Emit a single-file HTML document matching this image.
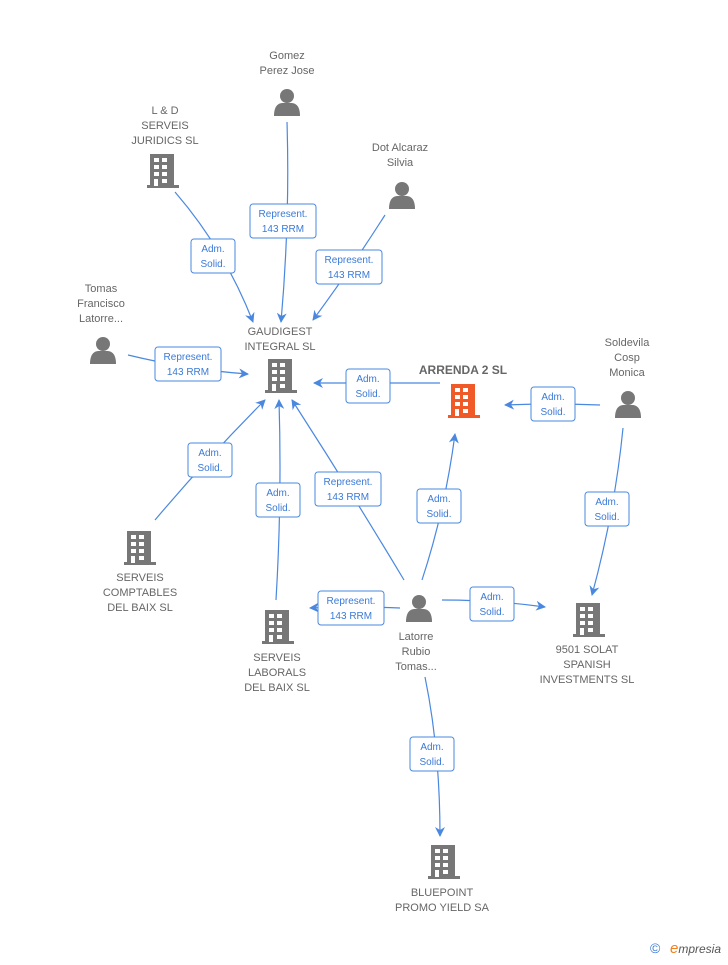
<!DOCTYPE html>
<html><head><meta charset="utf-8"><style>
body{margin:0;background:#fff;}
svg text{font-family:"Liberation Sans",sans-serif;}
</style></head><body>
<svg width="728" height="960" viewBox="0 0 728 960" xmlns="http://www.w3.org/2000/svg">
<defs>
<marker id="a" markerWidth="10" markerHeight="10" refX="9" refY="5" orient="auto" markerUnits="userSpaceOnUse"><path d="M0,0 L10,5 L0,10 L3,5 z" fill="#4a88e0"/></marker>
<g id="b"><rect x="-13" y="-17" width="24" height="33" fill="currentColor"/><rect x="-16" y="14" width="32" height="3" fill="currentColor"/>
<g fill="#fff"><rect x="-9" y="-13" width="5" height="4"/><rect x="-1" y="-13" width="5" height="4"/><rect x="-9" y="-6" width="5" height="4"/><rect x="-1" y="-6" width="5" height="4"/><rect x="-9" y="1" width="5" height="4"/><rect x="-1" y="1" width="5" height="4"/><rect x="-9" y="8" width="4" height="7"/><rect x="-1" y="8" width="5" height="4"/></g></g>
<g id="p" fill="#777"><circle cx="0" cy="-6" r="7"/><path d="M-13,14 C-13,3 -8,1 -4,1 L4,1 C8,1 13,3 13,14 z"/></g>
</defs>
<g stroke="#4a88e0" stroke-width="1.2" fill="none" marker-end="url(#a)">
<path d="M287,122 Q290,220 281,322"/>
<path d="M175,192 Q225,250 253,322"/>
<path d="M385,215 Q350,270 313,320"/>
<path d="M128,355 Q190,370 248,374"/>
<path d="M440,383 Q380,383 314,383"/>
<path d="M600,405 Q550,403 505,405"/>
<path d="M623,428 Q615,510 592,595"/>
<path d="M155,520 Q210,455 265,400"/>
<path d="M276,600 Q282,500 279,400"/>
<path d="M404,580 Q350,490 292,400"/>
<path d="M422,580 Q445,510 455,434"/>
<path d="M400,608 Q350,606 310,608"/>
<path d="M442,600 Q495,600 545,607"/>
<path d="M425,677 Q440,750 440,836"/>
</g>
<g font-size="10" fill="#3a7ad8" text-anchor="middle">
<g stroke="#4a88e0" fill="#fff"><rect x="250" y="204" width="66" height="34" rx="3"/><rect x="191" y="239" width="44" height="34" rx="3"/><rect x="316" y="250" width="66" height="34" rx="3"/><rect x="155" y="347" width="66" height="34" rx="3"/><rect x="346" y="369" width="44" height="34" rx="3"/><rect x="531" y="387" width="44" height="34" rx="3"/><rect x="585" y="492" width="44" height="34" rx="3"/><rect x="188" y="443" width="44" height="34" rx="3"/><rect x="256" y="483" width="44" height="34" rx="3"/><rect x="315" y="472" width="66" height="34" rx="3"/><rect x="417" y="489" width="44" height="34" rx="3"/><rect x="318" y="591" width="66" height="34" rx="3"/><rect x="470" y="587" width="44" height="34" rx="3"/><rect x="410" y="737" width="44" height="34" rx="3"/></g>
<text x="283" y="217">Represent.</text><text x="283" y="232">143 RRM</text>
<text x="213" y="252">Adm.</text><text x="213" y="267">Solid.</text>
<text x="349" y="263">Represent.</text><text x="349" y="278">143 RRM</text>
<text x="188" y="360">Represent.</text><text x="188" y="375">143 RRM</text>
<text x="368" y="382">Adm.</text><text x="368" y="397">Solid.</text>
<text x="553" y="400">Adm.</text><text x="553" y="415">Solid.</text>
<text x="607" y="505">Adm.</text><text x="607" y="520">Solid.</text>
<text x="210" y="456">Adm.</text><text x="210" y="471">Solid.</text>
<text x="278" y="496">Adm.</text><text x="278" y="511">Solid.</text>
<text x="348" y="485">Represent.</text><text x="348" y="500">143 RRM</text>
<text x="439" y="502">Adm.</text><text x="439" y="517">Solid.</text>
<text x="351" y="604">Represent.</text><text x="351" y="619">143 RRM</text>
<text x="492" y="600">Adm.</text><text x="492" y="615">Solid.</text>
<text x="432" y="750">Adm.</text><text x="432" y="765">Solid.</text>
</g>
<g color="#777">
<use href="#b" x="163" y="171"/><use href="#b" x="281" y="376"/><use href="#b" x="140" y="548"/><use href="#b" x="278" y="627"/><use href="#b" x="589" y="620"/><use href="#b" x="444" y="862"/>
</g>
<use href="#b" x="464" y="401" color="#f05a28"/>
<use href="#p" x="287" y="102"/><use href="#p" x="402" y="195"/><use href="#p" x="103" y="350"/><use href="#p" x="628" y="404"/><use href="#p" x="419" y="608"/>
<g font-size="11" fill="#666" text-anchor="middle">
<text x="287" y="59">Gomez</text><text x="287" y="74">Perez Jose</text>
<text x="165" y="114">L &amp; D</text><text x="165" y="129">SERVEIS</text><text x="165" y="144">JURIDICS  SL</text>
<text x="400" y="151">Dot Alcaraz</text><text x="400" y="166">Silvia</text>
<text x="101" y="292">Tomas</text><text x="101" y="307">Francisco</text><text x="101" y="322">Latorre...</text>
<text x="280" y="335">GAUDIGEST</text><text x="280" y="350">INTEGRAL SL</text>
<text x="463" y="374" font-weight="bold" font-size="12">ARRENDA 2 SL</text>
<text x="627" y="346">Soldevila</text><text x="627" y="361">Cosp</text><text x="627" y="376">Monica</text>
<text x="140" y="581">SERVEIS</text><text x="140" y="596">COMPTABLES</text><text x="140" y="611">DEL BAIX  SL</text>
<text x="277" y="661">SERVEIS</text><text x="277" y="676">LABORALS</text><text x="277" y="691">DEL BAIX SL</text>
<text x="416" y="640">Latorre</text><text x="416" y="655">Rubio</text><text x="416" y="670">Tomas...</text>
<text x="587" y="653">9501 SOLAT</text><text x="587" y="668">SPANISH</text><text x="587" y="683">INVESTMENTS SL</text>
<text x="442" y="896">BLUEPOINT</text><text x="442" y="911">PROMO YIELD SA</text>
</g>
<text x="650" y="953" font-size="14" fill="#3a7ad8">©</text>
<text x="670" y="953" font-size="12" fill="#555" font-style="italic"><tspan fill="#f08020" font-size="15">e</tspan>mpresia</text>
</svg>
</body></html>
